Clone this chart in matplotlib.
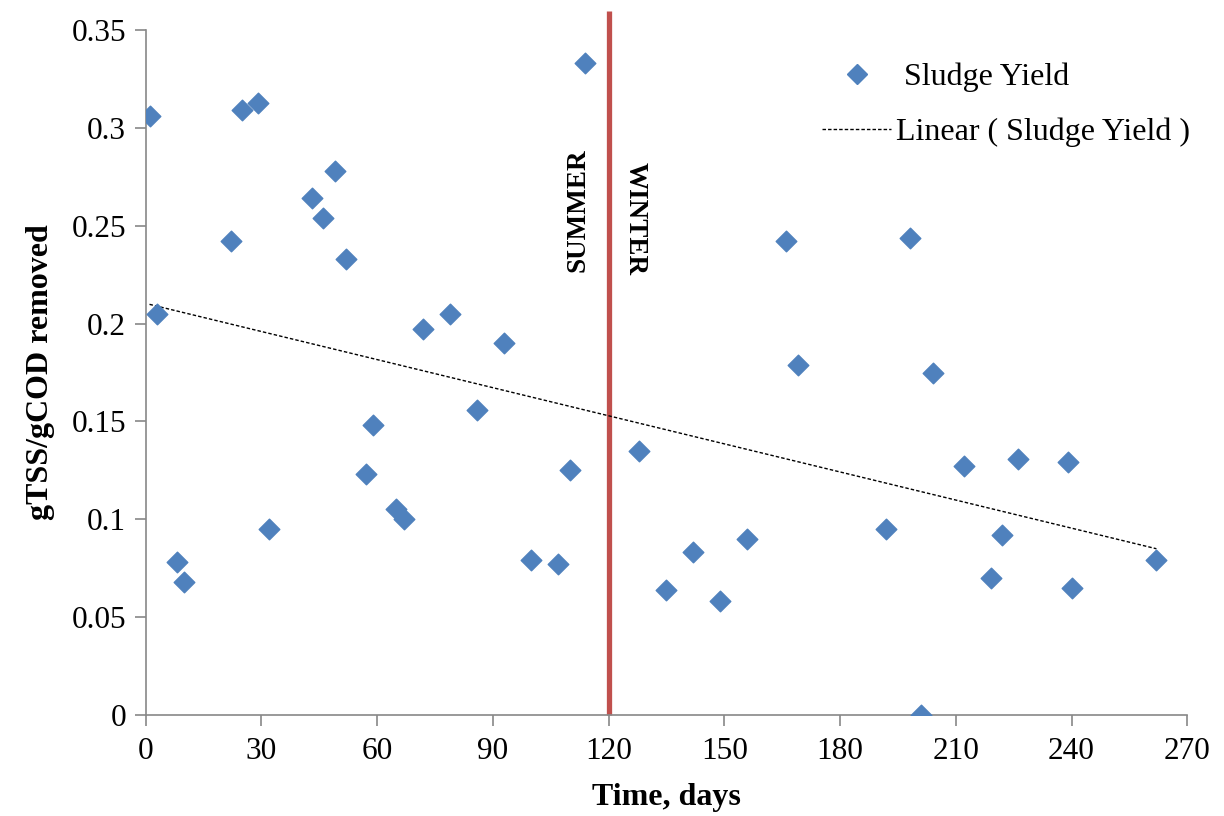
import numpy as np
import matplotlib.pyplot as plt
from matplotlib.lines import Line2D

# sludge yield readings (days, gTSS/gCOD removed)
days = [1, 3, 8, 10, 22, 25, 29, 32, 43, 46, 49, 52, 57, 59, 65, 67, 72, 79, 86, 93,
        100, 107, 110, 114, 128, 135, 142, 149, 156, 166, 169, 192, 198, 201, 204,
        212, 219, 222, 226, 239, 240, 262]
sludge_yield = [0.306, 0.205, 0.078, 0.068, 0.242, 0.309, 0.313, 0.095, 0.264, 0.254,
                0.278, 0.233, 0.123, 0.148, 0.105, 0.100, 0.197, 0.205, 0.156, 0.190,
                0.079, 0.077, 0.125, 0.333, 0.135, 0.064, 0.083, 0.058, 0.090, 0.242,
                0.179, 0.095, 0.244, 0.000, 0.175, 0.127, 0.070, 0.092, 0.131, 0.129,
                0.065, 0.079]
season_split = 120

plt.rcParams['font.family'] = ['Liberation Serif', 'DejaVu Serif']

fig = plt.figure(figsize=(12.24, 8.16), dpi=100)
ax = fig.add_axes([0.119, 0.124, 0.851, 0.839])

blue = '#4F81BD'
ax.scatter(days, sludge_yield, marker='D', s=110, color=blue, zorder=3)

# linear trend as in the spreadsheet
slope, intercept = np.polyfit(days, sludge_yield, 1)
xt = np.array([min(days), max(days)])
ax.plot(xt, slope * xt + intercept, color='black', lw=1, ls=(0, (2.5, 1.5)), zorder=2)

# season boundary, runs a bit above the plot area
ax.plot([season_split, season_split], [0, 0.36], color='#C0504D', lw=3.8,
        zorder=1, clip_on=False, solid_capstyle='butt')
ax.text(season_split - 8, 0.258, 'SUMMER', rotation=90, ha='center', va='center',
        fontsize=19.5, fontweight='bold')
ax.text(season_split + 7, 0.2535, 'WINTER', rotation=270, ha='center', va='center',
        fontsize=19.5, fontweight='bold')

ax.set_xlim(0, 270)
ax.set_ylim(0, 0.35)
ax.set_xticks(np.arange(0, 271, 30))
ax.set_yticks(np.arange(0, 0.351, 0.05))
ax.set_yticklabels(['0', '0.05', '0.1', '0.15', '0.2', '0.25', '0.3', '0.35'])

for s in ['top', 'right']:
    ax.spines[s].set_visible(False)
for s in ['left', 'bottom']:
    ax.spines[s].set_color('#888888')
    ax.spines[s].set_linewidth(1.2)
ax.tick_params(axis='both', labelsize=22.5, color='#888888', width=1.2, length=8)
ax.tick_params(axis='x', pad=8)
ax.tick_params(axis='y', pad=6)

ax.set_xlabel('Time, days', fontsize=23, fontweight='bold', labelpad=12)
ax.set_ylabel('gTSS/gCOD removed', fontsize=23, fontweight='bold', labelpad=12)

handles = [Line2D([], [], marker='D', color=blue, ls='none', markersize=10),
           Line2D([], [], color='black', lw=1, ls=(0, (2.5, 1.5)))]
ax.legend(handles, [' Sludge Yield', 'Linear ( Sludge Yield )'], loc='upper right',
          bbox_to_anchor=(1.03, 0.995), frameon=False, fontsize=23, handlelength=2.15,
          handletextpad=0.15, labelspacing=0.8)

fig.savefig('out.png', dpi=100)
